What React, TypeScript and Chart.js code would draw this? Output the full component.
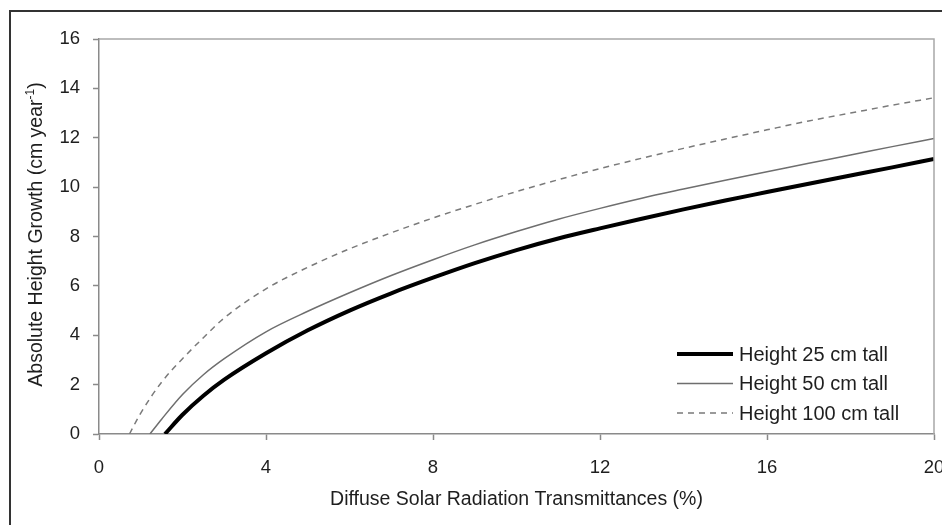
import React, { useEffect, useRef } from "react";
import { Chart, registerables } from "chart.js";

Chart.register(...registerables);

// ---- data ----
const X_TICK_STEP = 4;
const Y_TICK_STEP = 2;
const X_MIN = 0;
const X_MAX = 20;
const Y_MIN = 0;
const Y_MAX = 16;

const seriesLabels = ["Height 25 cm tall", "Height 50 cm tall", "Height 100 cm tall"];

const x25 = [1.58, 2, 2.5, 3, 4, 5, 6, 7, 8, 9, 10, 11, 12, 13, 14, 15, 16, 17, 18, 19, 20];
const y25 = [0, 0.78, 1.55, 2.2, 3.27, 4.2, 5.0, 5.7, 6.33, 6.92, 7.45, 7.92, 8.33, 8.72, 9.1, 9.46, 9.8, 10.14, 10.47, 10.8, 11.14];

const x50 = [1.22, 1.5, 2, 2.5, 3, 4, 5, 6, 7, 8, 9, 10, 11, 12, 13, 14, 15, 16, 17, 18, 19, 20];
const y50 = [0, 0.6, 1.6, 2.4, 3.05, 4.14, 4.97, 5.72, 6.42, 7.06, 7.66, 8.2, 8.7, 9.14, 9.55, 9.92, 10.28, 10.62, 10.97, 11.3, 11.64, 11.97];

const x100 = [0.73, 1, 1.5, 2, 2.5, 3, 4, 5, 6, 7, 8, 9, 10, 11, 12, 13, 14, 15, 16, 17, 18, 19, 20];
const y100 = [0, 0.85, 2.1, 3.05, 3.9, 4.7, 5.88, 6.75, 7.5, 8.15, 8.75, 9.3, 9.82, 10.3, 10.75, 11.17, 11.57, 11.95, 12.32, 12.68, 13.0, 13.32, 13.62];

const xTitle = "Diffuse Solar Radiation Transmittances (%)";
const yTitleMain = "Absolute Height Growth (cm year";
const yTitleSup = "-1";
const yTitleEnd = ")";

const FONT = "'Liberation Sans', Arial, Helvetica, sans-serif";
const AXIS_COLOR = "#8a8a8a";
const TEXT_COLOR = "#1e1e1e";

const toPoints = (xs: number[], ys: number[]) => xs.map((x, i) => ({ x, y: ys[i] }));

const decorPlugin = {
  id: "decor",
  afterDraw(chart: any) {
    const { ctx, chartArea } = chart;
    const { left, right, top, bottom } = chartArea;
    ctx.save();

    // plot frame (top and right)
    ctx.strokeStyle = "#a8a8a8";
    ctx.lineWidth = 1.5;
    ctx.beginPath();
    ctx.moveTo(left, top);
    ctx.lineTo(right, top);
    ctx.lineTo(right, bottom);
    ctx.stroke();

    // outer border
    ctx.strokeStyle = "#333";
    ctx.lineWidth = 2;
    ctx.strokeRect(10, 11, 1000, 1000);

    // legend
    const rowsY = [354, 383.5, 413];
    chart.data.datasets.forEach((ds: any, i: number) => {
      const y = rowsY[i];
      ctx.strokeStyle = ds.borderColor;
      ctx.lineWidth = ds.borderWidth;
      ctx.setLineDash(ds.borderDash || []);
      ctx.beginPath();
      ctx.moveTo(677, y);
      ctx.lineTo(733, y);
      ctx.stroke();
      ctx.setLineDash([]);
      ctx.fillStyle = TEXT_COLOR;
      ctx.font = `20px ${FONT}`;
      ctx.textAlign = "left";
      ctx.textBaseline = "middle";
      ctx.fillText(ds.label, 739, y + 1);
    });

    // x title
    ctx.fillStyle = TEXT_COLOR;
    ctx.font = `19.5px ${FONT}`;
    ctx.textAlign = "center";
    ctx.textBaseline = "middle";
    ctx.fillText(xTitle, (left + right) / 2, 500);

    // y title (rotated, with superscript)
    ctx.translate(35, (top + bottom) / 2 - 2);
    ctx.rotate(-Math.PI / 2);
    const mainFont = `19.5px ${FONT}`;
    const supFont = `12px ${FONT}`;
    ctx.font = mainFont;
    const w1 = ctx.measureText(yTitleMain).width;
    const w3 = ctx.measureText(yTitleEnd).width;
    ctx.font = supFont;
    const w2 = ctx.measureText(yTitleSup).width;
    const total = w1 + w2 + w3;
    let x = -total / 2;
    ctx.textAlign = "left";
    ctx.textBaseline = "alphabetic";
    const base = 7;
    ctx.font = mainFont;
    ctx.fillText(yTitleMain, x, base);
    x += w1;
    ctx.font = supFont;
    ctx.fillText(yTitleSup, x, base - 8);
    x += w2;
    ctx.font = mainFont;
    ctx.fillText(yTitleEnd, x, base);

    ctx.restore();
  },
};

export default function App() {
  const canvasRef = useRef<HTMLCanvasElement | null>(null);

  useEffect(() => {
    const canvas = canvasRef.current;
    if (!canvas) return;
    const chart = new Chart(canvas, {
      type: "line",
      data: {
        datasets: [
          {
            label: seriesLabels[0],
            data: toPoints(x25, y25),
            borderColor: "#000000",
            borderWidth: 4,
            pointRadius: 0,
            fill: false,
            cubicInterpolationMode: "monotone",
          },
          {
            label: seriesLabels[1],
            data: toPoints(x50, y50),
            borderColor: "#6e6e6e",
            borderWidth: 1.5,
            pointRadius: 0,
            fill: false,
            cubicInterpolationMode: "monotone",
          },
          {
            label: seriesLabels[2],
            data: toPoints(x100, y100),
            borderColor: "#7a7a7a",
            borderWidth: 1.5,
            borderDash: [6, 5],
            pointRadius: 0,
            fill: false,
            cubicInterpolationMode: "monotone",
          },
        ],
      },
      options: {
        responsive: false,
        animation: false,
        layout: { padding: { left: 0, top: 39, right: 8, bottom: 0 } },
        plugins: {
          legend: { display: false },
          tooltip: { enabled: false },
        },
        scales: {
          x: {
            type: "linear",
            min: X_MIN,
            max: X_MAX,
            ticks: {
              stepSize: X_TICK_STEP,
              color: TEXT_COLOR,
              font: { family: FONT, size: 18.5 },
              padding: 17,
            },
            grid: {
              drawOnChartArea: false,
              drawTicks: true,
              tickLength: 6,
              tickColor: AXIS_COLOR,
              tickWidth: 1.5,
            },
            border: { color: AXIS_COLOR, width: 1.5 },
            afterFit: (s: any) => {
              s.height = 91;
              s.paddingLeft = 0;
              s.paddingRight = 0;
            },
          },
          y: {
            type: "linear",
            min: Y_MIN,
            max: Y_MAX,
            ticks: {
              stepSize: Y_TICK_STEP,
              color: TEXT_COLOR,
              font: { family: FONT, size: 18.5 },
              padding: 13,
            },
            grid: {
              drawOnChartArea: false,
              drawTicks: true,
              tickLength: 6,
              tickColor: AXIS_COLOR,
              tickWidth: 1.5,
            },
            border: { color: AXIS_COLOR, width: 1.5 },
            afterFit: (s: any) => {
              s.width = 99;
              s.paddingTop = 0;
              s.paddingBottom = 0;
            },
          },
        },
      },
      plugins: [decorPlugin],
    } as any);
    return () => chart.destroy();
  }, []);

  return (
    <div style={{ position: "absolute", left: 0, top: 0, width: 942, height: 525, background: "#fff", overflow: "hidden" }}>
      <canvas ref={canvasRef} width={942} height={525} style={{ display: "block", width: 942, height: 525 }} />
    </div>
  );
}
